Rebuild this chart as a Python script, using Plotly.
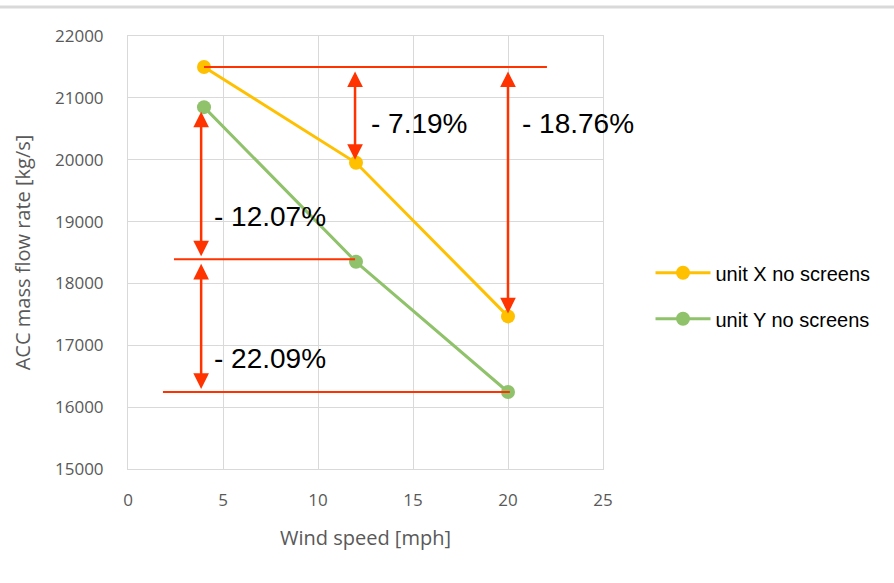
import plotly.graph_objects as go

wind = [4, 12, 20]
unit_x = [21500, 19950, 17467]
unit_y = [20850, 18350, 16245]
names = ["unit X no screens", "unit Y no screens"]

# reference lines: (x0, x1, y)
ref_lines = [(4, 22.05, 21500), (2.42, 11.95, 18390), (1.84, 20.1, 16245)]
# double arrows: (x, y_top, y_bottom)
arrows = [(11.95, 21500, 19950), (20.0, 21500, 17467), (3.85, 20850, 18390), (3.85, 18390, 16245)]
labels = ["- 7.19%", "- 18.76%", "- 12.07%", "- 22.09%"]
label_pos = [(12.7, 20580), (20.65, 20580), (4.4, 19080), (4.4, 16790)]

RED = "#FF3300"
fig = go.Figure()
fig.add_trace(go.Scatter(x=wind, y=unit_x, name=names[0], mode="lines+markers", legendgroup="a",
                         line=dict(color="#FFC000", width=3), marker=dict(size=14, color="#FFC000")))
fig.add_trace(go.Scatter(x=wind, y=unit_y, name=names[1], mode="lines+markers", legendgroup="b",
                         line=dict(color="#8FC26A", width=3), marker=dict(size=14, color="#8FC26A")))

for x0, x1, y in ref_lines:
    fig.add_shape(type="line", xref="x", yref="y", x0=x0, x1=x1, y0=y, y1=y,
                  line=dict(color=RED, width=2))

for x, yt, yb in arrows:
    fig.add_annotation(x=x, y=yb, ax=x, ay=yt, xref="x", yref="y", axref="x", ayref="y",
                       showarrow=True, arrowhead=2, startarrowhead=2, arrowside="end+start",
                       arrowsize=1.25, startarrowsize=1.25, arrowwidth=2.5, arrowcolor=RED,
                       standoff=3, startstandoff=3, text="")

for t, (x, y) in zip(labels, label_pos):
    fig.add_annotation(x=x, y=y, xref="x", yref="y", text=t, showarrow=False, xanchor="left",
                       font=dict(family="Liberation Sans, Arial", size=28, color="black"))

fig.add_shape(type="line", xref="paper", yref="paper", x0=-0.3, x1=1.7, y0=1.067, y1=1.067,
              line=dict(color="#D9D9D9", width=3))

axis_font = dict(family="Open Sans", size=17, color="#595959")
title_font = dict(family="Open Sans", size=20, color="#595959")
fig.update_xaxes(range=[0, 25], dtick=5, showgrid=True, gridcolor="#D9D9D9", zeroline=False,
                 showline=True, linecolor="#D9D9D9", mirror=True, tickfont=axis_font, ticks="",
                 ticklabelstandoff=16,
                 title=dict(text="Wind speed [mph]", font=title_font, standoff=20))
fig.update_yaxes(range=[15000, 22000], dtick=1000, tickformat="d", showgrid=True, gridcolor="#D9D9D9",
                 zeroline=False, showline=True, linecolor="#D9D9D9", mirror=True, tickfont=axis_font,
                 ticks="", ticklabelstandoff=20,
                 title=dict(text="ACC mass flow rate [kg/s]", font=title_font, standoff=18))

fig.update_layout(width=894, height=583, margin=dict(l=128, r=291, t=36, b=114),
                  plot_bgcolor="white", paper_bgcolor="white", showlegend=True,
                  legend=dict(x=1.1, y=0.40, yanchor="middle", xanchor="left",
                              font=dict(family="Liberation Sans, Arial", size=20, color="black"),
                              tracegroupgap=17, itemwidth=55))
fig.write_html("out.html")
